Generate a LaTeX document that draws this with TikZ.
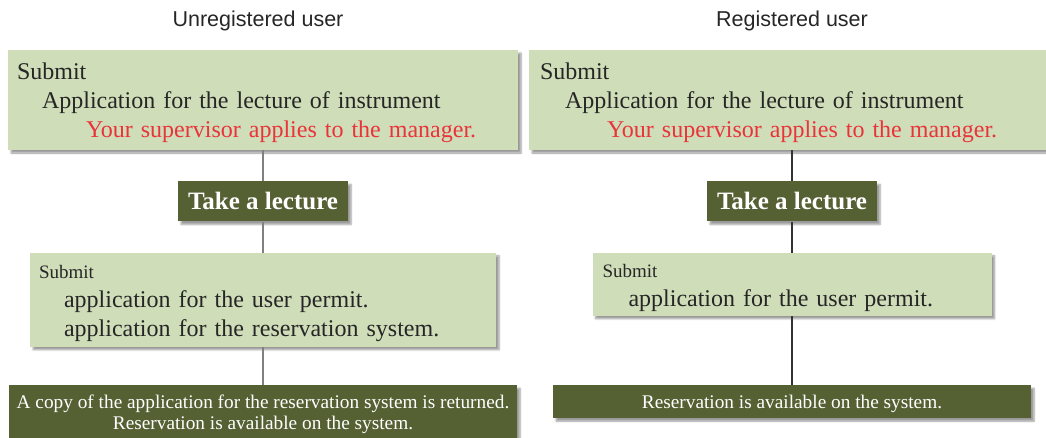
\documentclass[tikz,border=0pt]{standalone}
\usepackage{fontspec}
\setmainfont{Liberation Serif}
\newfontfamily\headfont{Liberation Sans}
\usetikzlibrary{positioning, shadows.blur}
\definecolor{paleolive}{HTML}{CFDDB8}
\definecolor{darkolive}{HTML}{556033}
\definecolor{alertred}{HTML}{E8343A}

\begin{document}
\begin{tikzpicture}[x=1pt,y=-1pt,node distance=31pt,
    head/.style={font=\headfont\fontsize{21.5}{24}\selectfont,text=black!85},
    pale/.style={fill=paleolive,text=black!85,align=left,inner ysep=0pt,
      font=\fontsize{24}{29}\selectfont,
      blur shadow={shadow xshift=3pt,shadow yshift=-3pt,shadow blur steps=5}},
    dark/.style={fill=darkolive,text=white,align=center,inner sep=0pt,
      blur shadow={shadow xshift=3pt,shadow yshift=-3pt,shadow blur steps=5}},
    lecture/.style={dark,minimum width=170pt,minimum height=40pt,font=\bfseries\fontsize{25}{29}\selectfont},
    result/.style={dark,font=\fontsize{19.3}{21}\selectfont},
    link/.style={line width=1.2pt}]
    \useasboundingbox (0,0) rectangle (1046,437);

      \node[head] (headL) at (258,21) {Unregistered user};
      \node[head] (headR) at (792,21) {Registered user};

      \node[pale,minimum width=510pt,minimum height=100pt,text width=492pt,inner xsep=9pt] (applyL) at (263,100)
        {\rule{0pt}{23pt}Submit\\ \hspace*{25pt}Application for the lecture of instrument\\ \hspace*{69pt}\textcolor{alertred}{Your supervisor applies to the manager.}};
      \node[pale,minimum width=526pt,minimum height=100pt,text width=504pt,inner xsep=11pt] (applyR) at (792,100)
        {\rule{0pt}{23pt}Submit\\ \hspace*{25pt}Application for the lecture of instrument\\ \hspace*{67pt}\textcolor{alertred}{Your supervisor applies to the manager.}};

      \node[lecture,below = of applyL] (lectureL) {Take a lecture};
      \node[lecture,below = of applyR] (lectureR) {Take a lecture};

      \node[pale,below = of lectureL,minimum width=466pt,minimum height=94pt,text width=448pt,inner xsep=9pt] (permitL)
        {\rule{0pt}{20pt}{\fontsize{19}{20}\selectfont Submit}\\ \hspace*{25pt}application for the user permit.\\ \hspace*{25pt}application for the reservation system.};
      \node[pale,below = of lectureR,minimum width=399pt,minimum height=63pt,text width=379pt,inner xsep=10pt] (permitR)
        {\rule{0pt}{21pt}{\fontsize{19}{20}\selectfont Submit}\\ \hspace*{26pt}application for the user permit.};

      \node[result,below = 38pt of permitL,minimum width=508pt,minimum height=58pt] (systemL)
        {A copy of the application for the reservation system is returned.\\ Reservation is available on the system.};
      \node[result,anchor=north,minimum width=478pt,minimum height=33pt,text height=14pt,text depth=0pt] (systemR) at (lectureR |- systemL.north)
        {Reservation is available on the system.};

      \draw[link,gray] (applyL) -- (lectureL);
      \draw[link,gray] (lectureL) -- (permitL);
      \draw[link,gray] (permitL) -- (systemL);
      \draw[link,black!80] (applyR) -- (lectureR);
      \draw[link,black!80] (lectureR) -- (permitR);
      \draw[link,black!80] (permitR) -- (systemR);
\end{tikzpicture}
\end{document}
